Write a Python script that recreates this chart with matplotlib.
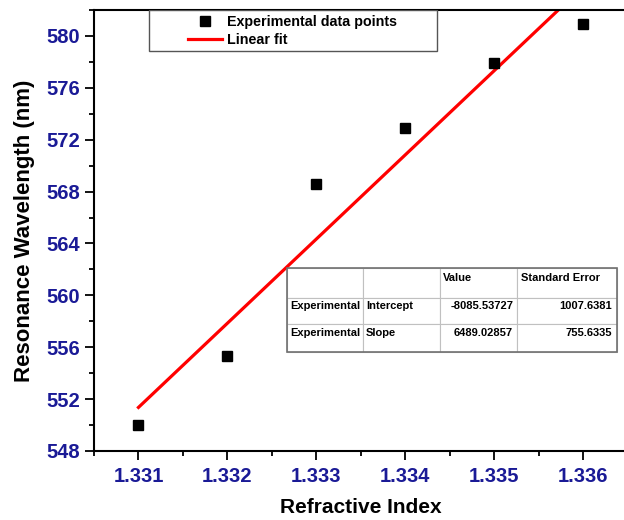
import matplotlib
matplotlib.use("Agg")
import matplotlib.pyplot as plt
from matplotlib.patches import Rectangle
from matplotlib.ticker import MultipleLocator
import numpy as np

plt.rcParams['font.family'] = ['Liberation Sans', 'DejaVu Sans']
plt.rcParams['font.weight'] = 'bold'

# measured points
ri = [1.331, 1.332, 1.333, 1.334, 1.335, 1.336]
wavelength = [550.0, 555.3, 568.6, 572.9, 577.9, 580.9]
# fit results (from the table in the figure)
intercept = -8085.53727
slope = 6489.02857
intercept_err = 1007.6381
slope_err = 755.6335

TICK_COLOR = '#1a1a96'

fig = plt.figure(figsize=(6.24, 5.2), dpi=100)
ax = fig.add_axes([94/624, 69/520, 533.5/624, 441/520])

fit_x = np.array([ri[0], ri[-1]])
fit_y = slope*fit_x + intercept
ax.plot(ri, wavelength, 's', color='black', ms=7.5, label='Experimental data points', zorder=3)
ax.plot(fit_x, fit_y, '-', color='red', lw=2.3, label='Linear fit', zorder=2)

ax.set_xlim(1.3305, 1.3365)
ax.set_ylim(548, 582)
ax.xaxis.set_major_locator(MultipleLocator(0.001))
ax.xaxis.set_minor_locator(MultipleLocator(0.0005))
ax.yaxis.set_major_locator(MultipleLocator(4))
ax.yaxis.set_minor_locator(MultipleLocator(2))
ax.xaxis.set_major_formatter(matplotlib.ticker.FormatStrFormatter('%.3f'))

for s in ax.spines.values():
    s.set_linewidth(1.5)
ax.tick_params(which='major', direction='out', length=6.5, width=1.3, labelsize=14.5,
               labelcolor=TICK_COLOR)
ax.tick_params(which='minor', direction='out', length=3.5, width=1.3)
ax.tick_params(axis='y', pad=3.5)
ax.tick_params(axis='x', pad=5)
for lbl in ax.get_xticklabels() + ax.get_yticklabels():
    lbl.set_fontweight('bold')

ax.set_xlabel('Refractive Index', fontsize=15, fontweight='bold', labelpad=9)
ax.set_ylabel('Resonance Wavelength (nm)', fontsize=16, fontweight='bold', labelpad=8)

# legend box drawn separately (Origin style)
ax.add_patch(Rectangle((0.103, 0.907), 0.54, 0.093, transform=ax.transAxes,
                       fill=True, facecolor='white', edgecolor='#555555', lw=1.0, zorder=4))
leg = ax.legend(loc='upper left', bbox_to_anchor=((188-94)/533.5, (451-15)/441),
                frameon=False, fontsize=10.3, borderpad=0, borderaxespad=0,
                handlelength=2.4, handletextpad=0.35, labelspacing=0.3)
leg.set_zorder(5)
for t in leg.get_texts():
    t.set_fontweight('bold')

# fit table
cells = [['', '', 'Value', 'Standard Error'],
         ['Experimental', 'Intercept', '%.5f' % intercept, '%.4f' % intercept_err],
         ['Experimental', 'Slope', '%.5f' % slope, '%.4f' % slope_err]]
tab = ax.table(cellText=cells, bbox=[(287-94)/533.5, (451-352)/441, 330/533.5, 84/441],
               colWidths=[76/330, 77/330, 77/330, 100/330], zorder=6)
tab.auto_set_font_size(False)
tab.set_fontsize(8)
for (r, c), cell in tab.get_celld().items():
    cell.set_edgecolor('#c0c0c0')
    cell.set_linewidth(0.8)
    cell.get_text().set_fontweight('bold')
    cell.get_text().set_verticalalignment('bottom')
    if r > 0 and c >= 2:
        cell.get_text().set_horizontalalignment('right')
        cell.PAD = 0.05
    else:
        cell.get_text().set_horizontalalignment('left')
        cell.PAD = 0.04
    cell.set_height([30, 26, 28][r]/441)
ax.add_patch(Rectangle(((287-94)/533.5, (451-352)/441), 330/533.5, 84/441,
                       transform=ax.transAxes, fill=False, edgecolor='#707070', lw=1.2, zorder=7))

fig.savefig('out.png', dpi=100)
